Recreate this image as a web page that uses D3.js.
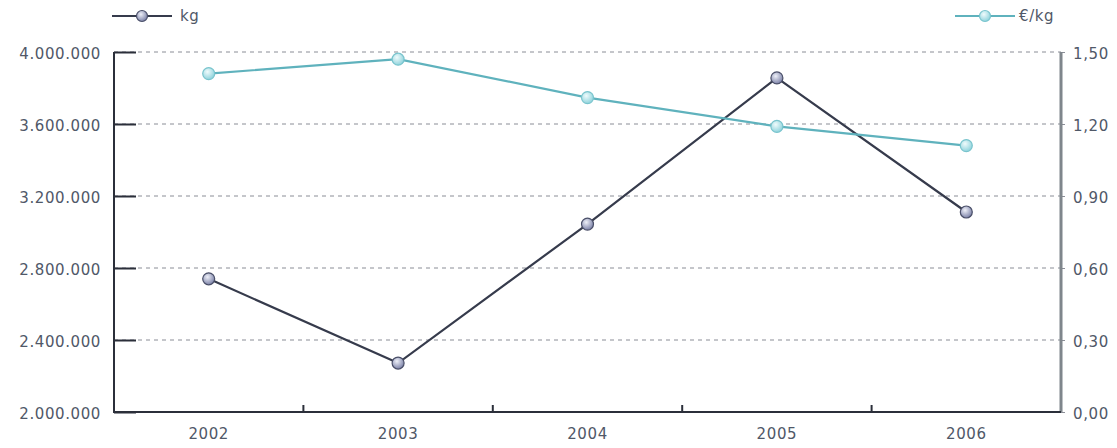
<!DOCTYPE html>
<html>
<head>
<meta charset="utf-8">
<script src="https://cdn.jsdelivr.net/npm/d3@7"></script>
<style>
  body { margin: 0; background: #fff; }
  text { font-family: "DejaVu Sans", Verdana, sans-serif; font-size: 15px; fill: #505868; letter-spacing: 0.6px; }
</style>
</head>
<body>
<div id="chart"></div>
<script>
"use strict";
// données
const years = ["2002", "2003", "2004", "2005", "2006"];
const kg = [2740000, 2272000, 3044000, 3856000, 3111000];
const eurKg = [1.41, 1.47, 1.31, 1.19, 1.11];
const kgTicks = [2000000, 2400000, 2800000, 3200000, 3600000, 4000000];
const eurTicks = [0, 0.3, 0.6, 0.9, 1.2, 1.5];

const width = 1117, height = 448;
const mLeft = 114, mRight = 1061, mTop = 52, mBottom = 412;

const loc = d3.formatLocale({decimal: ",", thousands: ".", grouping: [3], currency: ["", "€"]});
const fKg = loc.format(",.0f"), fEur = loc.format(",.2f");

const svg = d3.select("#chart").append("svg")
    .attr("width", width).attr("height", height);

const defs = svg.append("defs");
function grad(id, c0, c1) {
    const g = defs.append("radialGradient").attr("id", id)
        .attr("cx", "40%").attr("cy", "35%").attr("r", "65%");
    g.append("stop").attr("offset", "0%").attr("stop-color", c0);
    g.append("stop").attr("offset", "100%").attr("stop-color", c1);
}
grad("gKg", "#eef0f8", "#7c82a8");
grad("gEur", "#f0fbfc", "#8fd3dc");

const x = d3.scaleBand().domain(years).range([mLeft, mRight]);
const yKg = d3.scaleLinear().domain([2000000, 4000000]).range([mBottom, mTop]);
const yEur = d3.scaleLinear().domain([0, 1.5]).range([mBottom, mTop]);
const cx = d => x(d) + x.bandwidth() / 2;

// grille pointillée
svg.append("g").selectAll("line").data(kgTicks.slice(1)).enter().append("line")
    .attr("x1", mLeft).attr("x2", mRight)
    .attr("y1", d => yKg(d)).attr("y2", d => yKg(d))
    .attr("stroke", "#8a8d96").attr("stroke-width", 1).attr("stroke-dasharray", "4,4");

// axe gauche
const gL = svg.append("g").attr("transform", `translate(${mLeft},0)`)
    .call(d3.axisLeft(yKg).tickValues(kgTicks).tickFormat(fKg).tickSize(-22).tickPadding(13));
gL.select(".domain").remove();
gL.selectAll(".tick line").attr("stroke", "#2b2f3a").attr("stroke-width", 2);
gL.selectAll("text").attr("font-size", null).attr("font-family", null).attr("fill", null).attr("dy", "0.45em");
svg.append("line").attr("x1", mLeft).attr("x2", mLeft).attr("y1", mTop).attr("y2", mBottom)
    .attr("stroke", "#2b2f3a").attr("stroke-width", 2);

// axe droit
const gR = svg.append("g").attr("transform", `translate(${mRight},0)`)
    .call(d3.axisRight(yEur).tickValues(eurTicks).tickFormat(fEur).tickSize(4).tickPadding(8));
gR.select(".domain").remove();
gR.selectAll(".tick line").attr("stroke", "#8a8d96");
gR.selectAll("text").attr("font-size", null).attr("font-family", null).attr("fill", null).attr("dy", "0.45em");
svg.append("line").attr("x1", mRight).attr("x2", mRight).attr("y1", mTop).attr("y2", mBottom)
    .attr("stroke", "#7f868c").attr("stroke-width", 3);

// axe du bas
const gB = svg.append("g").attr("transform", `translate(0,${mBottom})`)
    .call(d3.axisBottom(x).tickSize(0).tickPadding(16));
gB.select(".domain").remove();
gB.selectAll("text").attr("font-size", null).attr("font-family", null).attr("fill", null);
svg.append("g").selectAll("line").data(years.slice(1)).enter().append("line")
    .attr("x1", d => x(d)).attr("x2", d => x(d))
    .attr("y1", mBottom).attr("y2", mBottom - 7)
    .attr("stroke", "#2b2f3a").attr("stroke-width", 2);
svg.append("line").attr("x1", mLeft - 1).attr("x2", mRight).attr("y1", mBottom).attr("y2", mBottom)
    .attr("stroke", "#2b2f3a").attr("stroke-width", 2);

// séries
const series = [
    {name: "kg", values: kg, y: yKg, line: "#363b4c", stroke: "#4a4f68", fill: "url(#gKg)"},
    {name: "€/kg", values: eurKg, y: yEur, line: "#5fb2bd", stroke: "#79c4cd", fill: "url(#gEur)"}
];
series.forEach(s => {
    const pts = years.map((yr, i) => [cx(yr), s.y(s.values[i])]);
    svg.append("path").attr("d", d3.line()(pts))
        .attr("fill", "none").attr("stroke", s.line).attr("stroke-width", 2.2);
    svg.append("g").selectAll("circle").data(pts).enter().append("circle")
        .attr("cx", d => d[0]).attr("cy", d => d[1]).attr("r", 6)
        .attr("fill", s.fill).attr("stroke", s.stroke).attr("stroke-width", 1.2);
});

// légende
const legend = [
    {s: series[0], x0: 112, x1: 172, tx: 180},
    {s: series[1], x0: 955, x1: 1015, tx: 1019}
];
legend.forEach(l => {
    const g = svg.append("g");
    g.append("line").attr("x1", l.x0).attr("x2", l.x1).attr("y1", 16).attr("y2", 16)
        .attr("stroke", l.s.line).attr("stroke-width", 2.2);
    g.append("circle").attr("cx", (l.x0 + l.x1) / 2).attr("cy", 16).attr("r", 5.5)
        .attr("fill", l.s.fill).attr("stroke", l.s.stroke).attr("stroke-width", 1.2);
    g.append("text").attr("x", l.tx).attr("y", 21).text(l.s.name);
});
</script>
</body>
</html>
